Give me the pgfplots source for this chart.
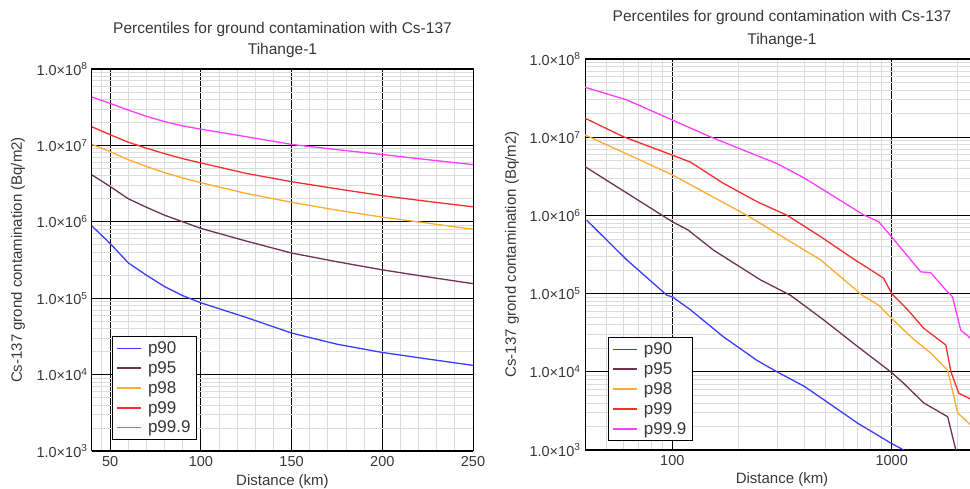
\documentclass[border=0pt]{standalone}
\usepackage{fontspec}
\setmainfont{Liberation Sans}
\usepackage{pgfplots}
\pgfplotsset{compat=1.18}

\definecolor{c90}{RGB}{60,60,255}
\definecolor{c95}{RGB}{110,50,85}
\definecolor{c98}{RGB}{255,170,50}
\definecolor{c99}{RGB}{245,45,45}
\definecolor{c999}{RGB}{255,60,255}
\definecolor{txt}{RGB}{55,55,55}

\begin{document}
\begin{tikzpicture}
\useasboundingbox (0pt,0pt) rectangle (970pt,488pt);
\clip (0pt,0pt) rectangle (970pt,488pt);

% left: linear distance axis
\begin{axis}[
  scale only axis,
  at={(92pt,37pt)}, anchor=south west,
  width=381pt, height=382pt,
  xmin=40, xmax=250,
  xtick={50,100,150,200,250}, xticklabels={50,100,150,200,250},
  minor xtick={45,60,70,80,90,110,120,130,140,160,170,180,190,210,220,230,240},
  ymode=log, ymin=1e3, ymax=1e8,
  ytick={1e3,1e4,1e5,1e6,1e7,1e8},
  yticklabels={1.0×10\textsuperscript{3},1.0×10\textsuperscript{4},1.0×10\textsuperscript{5},1.0×10\textsuperscript{6},1.0×10\textsuperscript{7},1.0×10\textsuperscript{8}},
  minor ytick={2e3,3e3,4e3,5e3,6e3,7e3,8e3,9e3,
               2e4,3e4,4e4,5e4,6e4,7e4,8e4,9e4,
               2e5,3e5,4e5,5e5,6e5,7e5,8e5,9e5,
               2e6,3e6,4e6,5e6,6e6,7e6,8e6,9e6,
               2e7,3e7,4e7,5e7,6e7,7e7,8e7,9e7},
  grid=both,
  major grid style={black, line width=0.9pt},
  minor grid style={black!14, line width=0.8pt},
  tick style={draw=none},
  axis line style={black, line width=1pt},
  tick label style={font=\fontsize{14.5}{16}\selectfont, text=txt},
  yticklabel style={xshift=-1pt},
  xticklabel style={yshift=-2pt},
  label style={font=\fontsize{15}{17}\selectfont, text=txt},
  ylabel style={at={(axis description cs:-0.194,0.5)}, anchor=center},
  xlabel style={at={(axis description cs:0.5,-0.081)}, anchor=center},
  title style={font=\fontsize{15.5}{21}\selectfont, text=txt, align=center, yshift=2pt},
  title={Percentiles for ground contamination with Cs-137\\Tihange-1},
  xlabel={Distance (km)},
  ylabel={Cs-137 grond contamination (Bq/m2)},
  legend cell align=left,
  legend image code/.code={\draw[#1, line width=1.5pt] (0pt,0pt) -- (24pt,0pt);},
  legend style={draw=black, fill=white, line width=1pt, at={(0.0525,0.029)}, anchor=south west,
    font=\fontsize{17}{19}\selectfont, text=txt, row sep=2.5pt, column sep=4pt,
    inner xsep=4pt, inner ysep=3pt},
]
\addplot[c90, line width=1.3pt] coordinates {(40,8.8e5) (50,5.2e5) (60,2.9e5) (70,2.0e5) (80,1.42e5) (90,1.08e5) (100,8.7e4) (110,7.3e4) (125,5.6e4) (150,3.5e4) (175,2.5e4) (200,1.95e4) (225,1.6e4) (250,1.32e4)};
\addplot[c95, line width=1.3pt] coordinates {(40,4.1e6) (50,2.9e6) (60,2.0e6) (70,1.55e6) (80,1.22e6) (90,1.0e6) (100,8.2e5) (125,5.6e5) (150,3.9e5) (175,3.0e5) (200,2.35e5) (225,1.9e5) (250,1.55e5)};
\addplot[c98, line width=1.3pt] coordinates {(40,1.03e7) (50,8.3e6) (60,6.5e6) (70,5.3e6) (80,4.4e6) (90,3.75e6) (100,3.25e6) (125,2.35e6) (150,1.8e6) (175,1.42e6) (200,1.15e6) (225,9.6e5) (250,8.0e5)};
\addplot[c99, line width=1.3pt] coordinates {(40,1.75e7) (50,1.38e7) (60,1.1e7) (70,9.2e6) (80,7.8e6) (90,6.7e6) (100,5.9e6) (125,4.3e6) (150,3.35e6) (175,2.7e6) (200,2.2e6) (225,1.85e6) (250,1.57e6)};
\addplot[c999, line width=1.3pt] coordinates {(40,4.3e7) (50,3.55e7) (60,2.9e7) (70,2.4e7) (80,2.05e7) (90,1.8e7) (100,1.63e7) (125,1.3e7) (150,1.03e7) (175,8.8e6) (200,7.6e6) (225,6.5e6) (250,5.6e6)};
\legend{p90,p95,p98,p99,p99.9}
\end{axis}

% right: log distance axis (cut off at the right edge)
\begin{axis}[
  scale only axis,
  at={(585pt,38pt)}, anchor=south west,
  width=394pt, height=391pt,
  xmode=log, xmin=40, xmax=2500,
  xtick={100,1000}, xticklabels={100,1000},
  minor xtick={50,60,70,80,90,200,300,400,500,600,700,800,900,2000},
  ymode=log, ymin=1e3, ymax=1e8,
  ytick={1e3,1e4,1e5,1e6,1e7,1e8},
  yticklabels={1.0×10\textsuperscript{3},1.0×10\textsuperscript{4},1.0×10\textsuperscript{5},1.0×10\textsuperscript{6},1.0×10\textsuperscript{7},1.0×10\textsuperscript{8}},
  minor ytick={2e3,3e3,4e3,5e3,6e3,7e3,8e3,9e3,
               2e4,3e4,4e4,5e4,6e4,7e4,8e4,9e4,
               2e5,3e5,4e5,5e5,6e5,7e5,8e5,9e5,
               2e6,3e6,4e6,5e6,6e6,7e6,8e6,9e6,
               2e7,3e7,4e7,5e7,6e7,7e7,8e7,9e7},
  grid=both,
  major grid style={black, line width=0.9pt},
  minor grid style={black!14, line width=0.8pt},
  tick style={draw=none},
  axis line style={black, line width=1pt},
  tick label style={font=\fontsize{14.5}{16}\selectfont, text=txt},
  yticklabel style={xshift=-1pt},
  xticklabel style={yshift=-2pt},
  label style={font=\fontsize{15}{17}\selectfont, text=txt},
  ylabel style={at={(axis description cs:-0.185,0.5)}, anchor=center},
  xlabel style={at={(axis description cs:0.5,-0.077)}, anchor=center},
  title style={font=\fontsize{15.5}{23}\selectfont, text=txt, align=center, yshift=2pt},
  title={Percentiles for ground contamination with Cs-137\\Tihange-1},
  xlabel={Distance (km)},
  ylabel={Cs-137 grond contamination (Bq/m2)},
  legend cell align=left,
  legend image code/.code={\draw[#1, line width=1.5pt] (0pt,0pt) -- (24pt,0pt);},
  legend style={draw=black, fill=white, line width=1pt, at={(0.058,0.023)}, anchor=south west,
    font=\fontsize{17}{19}\selectfont, text=txt, row sep=2.5pt, column sep=4pt,
    inner xsep=4pt, inner ysep=3pt},
]
\addplot[c90, line width=1.3pt] coordinates {(40.7,8.7e5) (62,2.7e5) (94.6,9.5e4) (100,9.1e4) (121,6.2e4) (171,2.8e4) (243,1.4e4) (300,1.0e4) (400,6.5e3) (490,4.4e3) (700,2.2e3) (989,1.23e3) (1135,1.0e3)};
\addplot[c95, line width=1.3pt] coordinates {(40,4.2e6) (100,8.3e5) (118,6.5e5) (154,3.6e5) (252,1.5e5) (346,9.5e4) (490,4.6e4) (700,2.1e4) (989,1.0e4) (1135,7.1e3) (1400,4.0e3) (1800,2.66e3) (1960,1.0e3)};
\addplot[c98, line width=1.3pt] coordinates {(40,1.07e7) (100,3.3e6) (219,1.0e6) (252,7.9e5) (400,3.6e5) (474,2.7e5) (735,9.5e4) (873,7.1e4) (1000,4.8e4) (1260,2.6e4) (1506,1.74e4) (1799,1.05e4) (2000,2.97e3) (2290,2.1e3) (2500,1.7e3)};
\addplot[c99, line width=1.3pt] coordinates {(40,1.75e7) (60,1.01e7) (100,5.9e6) (121,4.8e6) (171,2.57e6) (243,1.5e6) (334,1.0e6) (474,5.35e5) (673,2.75e5) (828,1.9e5) (919,1.57e5) (1000,1.0e5) (1183,6.2e4) (1400,3.6e4) (1765,2.2e4) (1862,1.0e4) (2023,5.3e3) (2250,4.6e3) (2500,3.8e3)};
\addplot[c999, line width=1.3pt] coordinates {(40,4.35e7) (62,3.0e7) (100,1.66e7) (149,1.01e7) (300,4.6e6) (400,3.0e6) (747,1.01e6) (873,8.3e5) (1000,5.3e5) (1355,1.9e5) (1506,1.85e5) (1765,1.11e5) (1893,9.1e4) (2065,3.4e4) (2250,2.8e4) (2500,2.0e4)};
\legend{p90,p95,p98,p99,p99.9}
\end{axis}
\end{tikzpicture}
\end{document}
